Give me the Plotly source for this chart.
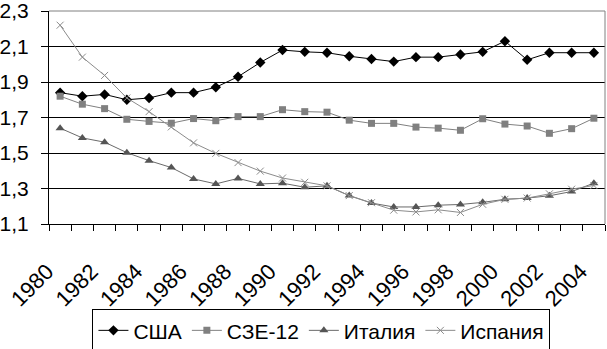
import plotly.graph_objects as go

years = list(range(1980, 2005))
usa = [1.84, 1.82, 1.83, 1.80, 1.81, 1.84, 1.84, 1.87, 1.93, 2.01, 2.08, 2.07, 2.065, 2.045,
       2.03, 2.015, 2.04, 2.04, 2.055, 2.07, 2.13, 2.025, 2.065, 2.065, 2.065]
eu12 = [1.82, 1.775, 1.75, 1.69, 1.678, 1.668, 1.694, 1.682, 1.705, 1.705, 1.744, 1.733, 1.73, 1.685,
        1.667, 1.667, 1.646, 1.64, 1.628, 1.693, 1.663, 1.652, 1.611, 1.637, 1.696]
italy = [1.64, 1.585, 1.561, 1.502, 1.457, 1.418, 1.354, 1.326, 1.357, 1.326, 1.33, 1.307, 1.315, 1.26,
         1.218, 1.196, 1.196, 1.206, 1.21, 1.222, 1.239, 1.246, 1.259, 1.283, 1.33]
spain = [2.22, 2.04, 1.937, 1.81, 1.733, 1.647, 1.557, 1.498, 1.446, 1.398, 1.359, 1.335, 1.315, 1.26,
         1.22, 1.178, 1.168, 1.18, 1.165, 1.211, 1.239, 1.246, 1.27, 1.296, 1.317]
names = ["США", "СЗЕ-12", "Италия", "Испания"]
xlabels = [str(y) for y in years[::2]]
yticks = [1.1, 1.3, 1.5, 1.7, 1.9, 2.1, 2.3]

fig = go.Figure()
fig.add_trace(go.Scatter(x=years, y=usa, name=names[0], mode="lines+markers",
                         line=dict(color="black", width=1),
                         marker=dict(symbol="diamond", size=8, color="black")))
fig.add_trace(go.Scatter(x=years, y=eu12, name=names[1], mode="lines+markers",
                         line=dict(color="#808080", width=1),
                         marker=dict(symbol="square", size=7, color="#808080")))
fig.add_trace(go.Scatter(x=years, y=italy, name=names[2], mode="lines+markers",
                         line=dict(color="#6a6a6a", width=1),
                         marker=dict(symbol="triangle-up", size=8, color="#555555")))
fig.add_trace(go.Scatter(x=years, y=spain, name=names[3], mode="lines+markers",
                         line=dict(color="#8c8c8c", width=1),
                         marker=dict(symbol="x-thin-open", size=7,
                                     line=dict(color="#8c8c8c", width=1))))

font_family = "Liberation Sans, Arial, sans-serif"
fig.update_layout(
    width=607, height=349,
    margin=dict(l=49, r=2, t=11, b=125, autoexpand=False),
    paper_bgcolor="white", plot_bgcolor="white",
    separators=", ",
    font=dict(family=font_family, size=21, color="black"),
    showlegend=True,
    legend=dict(orientation="h", x=0.49, xanchor="center", y=-0.40, yanchor="top",
                bordercolor="black", borderwidth=1, font=dict(size=21),
                itemwidth=30, tracegroupgap=0),
    xaxis=dict(range=[1979.5, 2004.5], tickmode="array", tickvals=years[::2], ticktext=xlabels,
               tickangle=-45, showgrid=False, showline=True, linecolor="black", linewidth=1,
               ticks="outside", ticklen=6, tickcolor="rgba(0,0,0,0)", zeroline=False,
               automargin=False, ticklabelstandoff=19, ticklabelshift=-13,
               tickfont=dict(size=22),
               minor=dict(ticks="outside", ticklen=6, tickcolor="black", tick0=1979.5, dtick=1,
                          showgrid=False)),
    yaxis=dict(range=[1.1, 2.3], tickmode="array", tickvals=yticks, tickformat=".1f",
               showgrid=True, gridcolor="black", gridwidth=1,
               showline=True, linecolor="black", linewidth=1, automargin=False,
               ticks="outside", ticklen=7, tickcolor="black", zeroline=False,
               ticklabelstandoff=8, ticklabeloverflow="allow"),
    shapes=[dict(type="path", xref="paper", yref="paper", path="M 0 1 L 1 1 L 1 0",
                 line=dict(color="#808080", width=1), layer="above")],
)

fig.write_html("out.html")
